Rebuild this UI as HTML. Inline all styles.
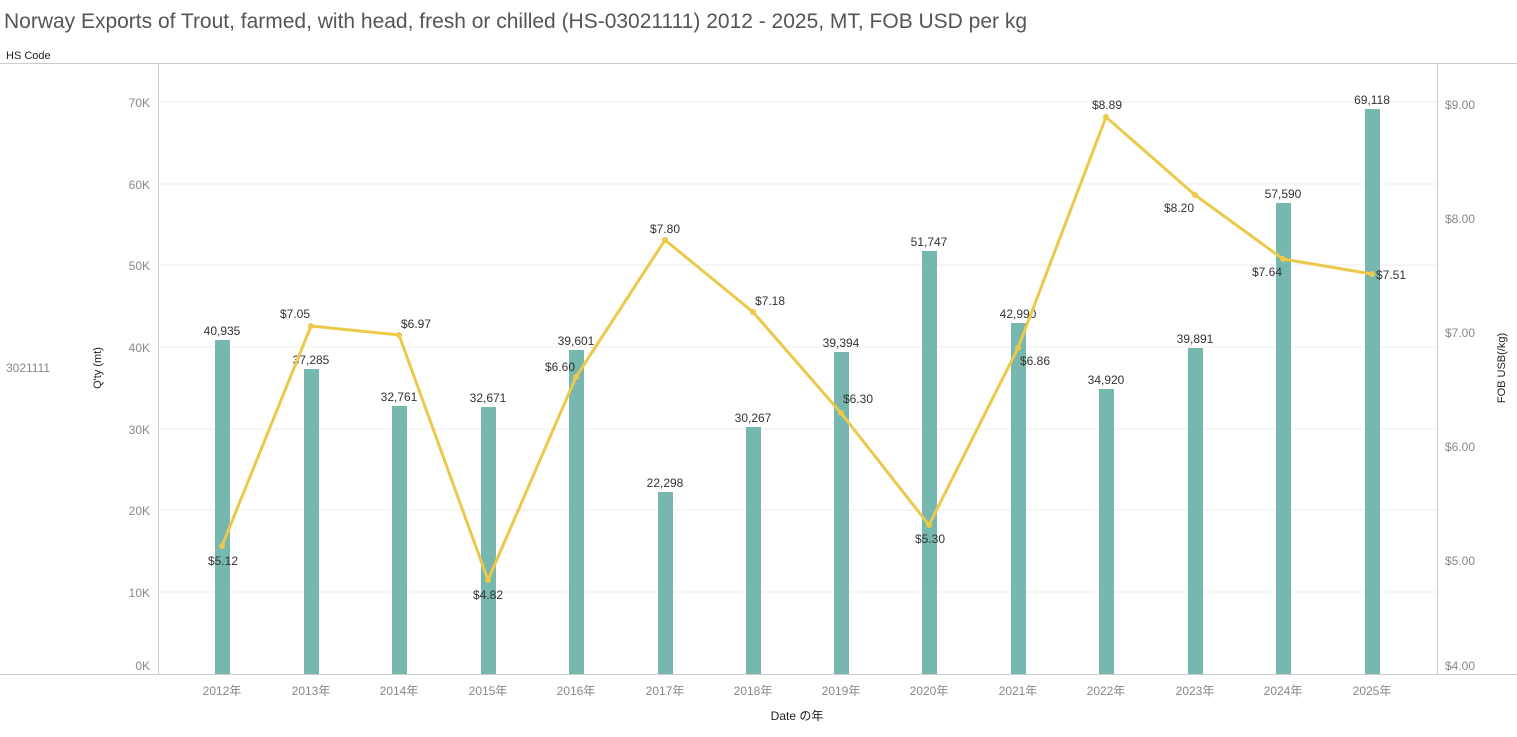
<!DOCTYPE html>
<html><head><meta charset="utf-8"><style>
body{margin:0;background:#fff;}
svg text{font-family:"Liberation Sans","Noto Sans CJK JP",sans-serif;}
</style></head><body>
<svg width="1517" height="732" xmlns="http://www.w3.org/2000/svg">
<text x="4" y="28" font-size="21" fill="#555" textLength="1023" lengthAdjust="spacingAndGlyphs">Norway Exports of Trout, farmed, with head, fresh or chilled (HS-03021111) 2012 - 2025, MT, FOB USD per kg</text>
<text x="6" y="59" font-size="11" fill="#222">HS Code</text>
<line x1="0" y1="63.5" x2="1517" y2="63.5" stroke="#ccc"/>
<line x1="158.5" y1="64" x2="158.5" y2="674" stroke="#ccc"/>
<line x1="1437.5" y1="64" x2="1437.5" y2="674" stroke="#ccc"/>
<line x1="0" y1="674.5" x2="1517" y2="674.5" stroke="#ccc"/>
<g stroke="#eee">
<line x1="159" y1="102" x2="1437" y2="102"/><line x1="159" y1="184" x2="1437" y2="184"/>
<line x1="159" y1="265" x2="1437" y2="265"/><line x1="159" y1="347" x2="1437" y2="347"/>
<line x1="159" y1="429" x2="1437" y2="429"/><line x1="159" y1="510" x2="1437" y2="510"/>
<line x1="159" y1="592" x2="1437" y2="592"/>
</g>
<g font-size="12" fill="#888" text-anchor="end">
<text x="150" y="107">70K</text><text x="150" y="189">60K</text><text x="150" y="270">50K</text>
<text x="150" y="352">40K</text><text x="150" y="434">30K</text><text x="150" y="515">20K</text>
<text x="150" y="597">10K</text><text x="150" y="670">0K</text>
</g>
<g font-size="12" fill="#888">
<text x="1445" y="109">$9.00</text><text x="1445" y="223">$8.00</text><text x="1445" y="337">$7.00</text>
<text x="1445" y="451">$6.00</text><text x="1445" y="565">$5.00</text><text x="1445" y="670">$4.00</text>
</g>
<text x="6" y="372" font-size="12" fill="#888">3021111</text>
<text transform="translate(101,368) rotate(-90)" font-size="11" fill="#222" text-anchor="middle">Q'ty (mt)</text>
<text transform="translate(1505,368) rotate(-90)" font-size="11" fill="#222" text-anchor="middle">FOB USB(/kg)</text>
<text x="797" y="720" font-size="12" fill="#222" text-anchor="middle">Date の年</text>
<g fill="#76b7b0">
<rect x="215" y="340" width="15" height="334"/><rect x="304" y="369" width="15" height="305"/>
<rect x="392" y="406" width="15" height="268"/><rect x="481" y="407" width="15" height="267"/>
<rect x="569" y="350" width="15" height="324"/><rect x="658" y="492" width="15" height="182"/>
<rect x="746" y="427" width="15" height="247"/><rect x="834" y="352" width="15" height="322"/>
<rect x="922" y="251" width="15" height="423"/><rect x="1011" y="323" width="15" height="351"/>
<rect x="1099" y="389" width="15" height="285"/><rect x="1188" y="348" width="15" height="326"/>
<rect x="1276" y="203" width="15" height="471"/><rect x="1365" y="109" width="15" height="565"/>
</g>
<g font-size="12" fill="#888" text-anchor="middle">
<text x="222" y="695">2012年</text><text x="311" y="695">2013年</text><text x="399" y="695">2014年</text>
<text x="488" y="695">2015年</text><text x="576" y="695">2016年</text><text x="665" y="695">2017年</text>
<text x="753" y="695">2018年</text><text x="841" y="695">2019年</text><text x="929" y="695">2020年</text>
<text x="1018" y="695">2021年</text><text x="1106" y="695">2022年</text><text x="1195" y="695">2023年</text>
<text x="1283" y="695">2024年</text><text x="1372" y="695">2025年</text>
</g>
<g font-size="12" fill="#333" text-anchor="middle">
<text x="222" y="335">40,935</text><text x="311" y="364">37,285</text><text x="399" y="401">32,761</text>
<text x="488" y="402">32,671</text><text x="576" y="345">39,601</text><text x="665" y="487">22,298</text>
<text x="753" y="422">30,267</text><text x="841" y="347">39,394</text><text x="929" y="246">51,747</text>
<text x="1018" y="318">42,990</text><text x="1106" y="384">34,920</text><text x="1195" y="343">39,891</text>
<text x="1283" y="198">57,590</text><text x="1372" y="104">69,118</text>
</g>
<polyline fill="none" stroke="#ecc94b" stroke-width="3" stroke-linejoin="round" points="222,546 311,326 399,335 488,580 576,377 665,240 753,312 841,413 929,525 1018,348 1106,117 1195,195 1283,259 1372,274"/>
<g fill="#ecc94b">
<circle cx="222" cy="546" r="3"/><circle cx="311" cy="326" r="3"/><circle cx="399" cy="335" r="3"/>
<circle cx="488" cy="580" r="3"/><circle cx="576" cy="377" r="3"/><circle cx="665" cy="240" r="3"/>
<circle cx="753" cy="312" r="3"/><circle cx="841" cy="413" r="3"/><circle cx="929" cy="525" r="3"/>
<circle cx="1018" cy="348" r="3"/><circle cx="1106" cy="117" r="3"/><circle cx="1195" cy="195" r="3"/>
<circle cx="1283" cy="259" r="3"/><circle cx="1372" cy="274" r="3"/>
</g>
<g font-size="12" fill="#333" text-anchor="middle">
<text x="223" y="565">$5.12</text><text x="295" y="318">$7.05</text><text x="416" y="328">$6.97</text>
<text x="488" y="599">$4.82</text><text x="560" y="371">$6.60</text><text x="665" y="233">$7.80</text>
<text x="770" y="305">$7.18</text><text x="858" y="403">$6.30</text><text x="930" y="543">$5.30</text>
<text x="1035" y="365">$6.86</text><text x="1107" y="109">$8.89</text><text x="1179" y="212">$8.20</text>
<text x="1267" y="276">$7.64</text><text x="1391" y="279">$7.51</text>
</g>
</svg>
</body></html>
